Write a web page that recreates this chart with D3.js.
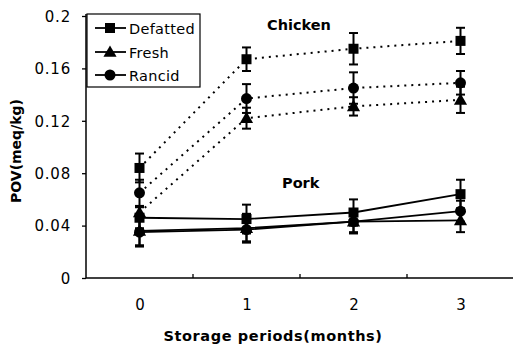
<!DOCTYPE html>
<html><head><meta charset="utf-8">
<script src="https://cdn.jsdelivr.net/npm/d3@7"></script>
<style>
body{margin:0;background:#fff;}
text{font-family:"DejaVu Sans",sans-serif;fill:#000;}
</style></head>
<body>
<svg id="c" width="513" height="347"></svg>
<script>
const months = [0, 1, 2, 3];
const yTicks = [0, 0.04, 0.08, 0.12, 0.16, 0.2];
const yTickLabels = ["0", "0.04", "0.08", "0.12", "0.16", "0.2"];
const seriesNames = ["Defatted", "Fresh", "Rancid"];
const markers = ["square", "triangle", "circle"];

const chickenDefatted = [0.084, 0.167, 0.175, 0.181];
const chickenDefattedErr = [0.011, 0.009, 0.012, 0.010];
const chickenFresh = [0.050, 0.122, 0.131, 0.136];
const chickenFreshErr = [0.005, 0.008, 0.007, 0.010];
const chickenRancid = [0.065, 0.137, 0.145, 0.149];
const chickenRancidErr = [0.010, 0.011, 0.012, 0.009];

const porkDefatted = [0.046, 0.045, 0.050, 0.064];
const porkDefattedErr = [0.008, 0.011, 0.010, 0.011];
const porkFresh = [0.036, 0.038, 0.043, 0.044];
const porkFreshErr = [0.012, 0.011, 0.009, 0.009];
const porkRancid = [0.035, 0.037, 0.043, 0.051];
const porkRancidErr = [0.010, 0.009, 0.008, 0.008];

const series = [
  {v: chickenDefatted, e: chickenDefattedErr, m: "square", dotted: true},
  {v: chickenFresh, e: chickenFreshErr, m: "triangle", dotted: true},
  {v: chickenRancid, e: chickenRancidErr, m: "circle", dotted: true},
  {v: porkDefatted, e: porkDefattedErr, m: "square", dotted: false},
  {v: porkFresh, e: porkFreshErr, m: "triangle", dotted: false},
  {v: porkRancid, e: porkRancidErr, m: "circle", dotted: false}
];

const svg = d3.select("#c");
const x = d3.scaleLinear().domain([-0.5, 3.5]).range([86, 514]);
const y = d3.scaleLinear().domain([0, 0.2]).range([278, 16]);

// axes
const yAxis = d3.axisLeft(y).tickValues(yTicks).tickFormat((d,i)=>yTickLabels[i]).tickSize(4).tickPadding(11);
const gy = svg.append("g").attr("transform","translate(86,0)").call(yAxis);
gy.select(".domain").remove();
gy.selectAll(".tick line").attr("stroke","#000").attr("stroke-width",1.3);
gy.selectAll(".tick text").style("font-size","15px").style("letter-spacing","0.8px").attr("dy","0.35em").style("font-family","DejaVu Sans");
svg.append("line").attr("x1",86).attr("x2",86).attr("y1",14).attr("y2",278).attr("stroke","#000").attr("stroke-width",1.5);

const xAxis = d3.axisBottom(x).tickValues(months).tickFormat(d3.format("d")).tickSize(0).tickPadding(21);
const gx = svg.append("g").attr("transform","translate(0,278)").call(xAxis);
gx.select(".domain").remove();
gx.selectAll(".tick text").style("font-size","15px").style("font-family","DejaVu Sans");
svg.append("line").attr("x1",86).attr("x2",513).attr("y1",278).attr("y2",278).attr("stroke","#000").attr("stroke-width",1.5);
const bounds = [0.5, 1.5, 2.5];
svg.selectAll(".xb").data(bounds).join("line").attr("class","xb")
  .attr("x1",d=>x(d)).attr("x2",d=>x(d)).attr("y1",278).attr("y2",274)
  .attr("stroke","#000").attr("stroke-width",1.3);

// axis titles
svg.append("text").attr("transform","translate(21,151) rotate(-90)").attr("text-anchor","middle")
  .style("font-size","14px").style("font-weight","bold").text("POV(meq/kg)");
svg.append("text").attr("x",273).attr("y",341).attr("text-anchor","middle")
  .style("font-size","14.5px").style("font-weight","bold").style("letter-spacing","0.6px").text("Storage periods(months)");

// group labels
svg.append("text").attr("x",267).attr("y",30).style("font-size","14.5px").style("font-weight","bold").text("Chicken");
svg.append("text").attr("x",282).attr("y",188).style("font-size","14.5px").style("font-weight","bold").text("Pork");

function drawMarker(g, type, cx, cy) {
  if (type === "square") {
    g.append("rect").attr("x",cx-5).attr("y",cy-5).attr("width",10).attr("height",10).attr("fill","#000");
  } else if (type === "circle") {
    g.append("circle").attr("cx",cx).attr("cy",cy).attr("r",5.5).attr("fill","#000");
  } else {
    g.append("path").attr("d",d3.symbol().type(d3.symbolTriangle).size(75)()).attr("transform",`translate(${cx},${cy+1})`).attr("fill","#000");
  }
}

const line = d3.line().x((d,i)=>x(months[i])).y(d=>y(d));
series.forEach(s => {
  svg.append("path").attr("d", line(s.v)).attr("fill","none").attr("stroke","#000")
    .attr("stroke-width", s.dotted ? 2 : 1.8)
    .attr("stroke-dasharray", s.dotted ? "2,5" : null);
});
series.forEach(s => {
  const g = svg.append("g");
  s.v.forEach((v,i) => {
    const cx = x(months[i]);
    g.append("line").attr("x1",cx).attr("x2",cx).attr("y1",y(v - s.e[i])).attr("y2",y(v + s.e[i])).attr("stroke","#000").attr("stroke-width",2);
    [v - s.e[i], v + s.e[i]].forEach(t => {
      g.append("line").attr("x1",cx-4.5).attr("x2",cx+4.5).attr("y1",y(t)).attr("y2",y(t)).attr("stroke","#000").attr("stroke-width",2);
    });
    drawMarker(g, s.m, cx, y(v));
  });
});

// legend
svg.append("rect").attr("x",87).attr("y",14).attr("width",113).attr("height",73).attr("fill","#fff").attr("stroke","#000").attr("stroke-width",1.2);
const ly = [28, 52, 75];
seriesNames.forEach((n,i) => {
  const g = svg.append("g");
  g.append("line").attr("x1",95).attr("x2",126).attr("y1",ly[i]).attr("y2",ly[i]).attr("stroke","#000").attr("stroke-width",1.8);
  drawMarker(g, markers[i], 110, ly[i]);
  g.append("text").attr("x",129).attr("y",ly[i]+5.5).style("font-size","14.5px").style("letter-spacing","0.3px").text(n);
});
</script>
</body></html>
